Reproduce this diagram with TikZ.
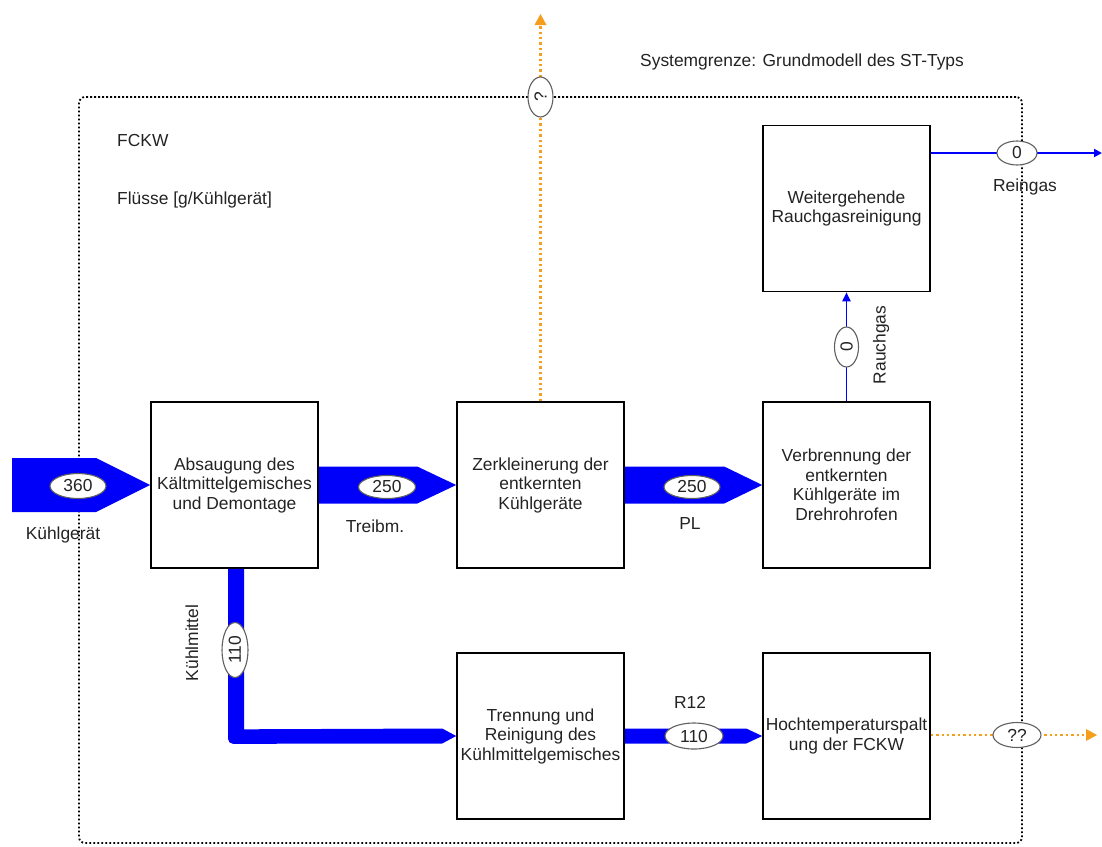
\documentclass[tikz,border=0pt]{standalone}
\usepackage{fontspec}
\setmainfont{Liberation Sans}
\usetikzlibrary{calc,arrows.meta,shapes.geometric}
\definecolor{flowblue}{RGB}{0,0,250}
\definecolor{orng}{RGB}{245,158,30}
\definecolor{txt}{RGB}{35,35,35}
\begin{document}
\begin{tikzpicture}[x=1pt,y=-1pt,
  box/.style={draw=black,line width=1.6pt,minimum width=167pt,minimum height=166pt,inner sep=0pt,align=center,text=txt,font=\fontsize{17.4}{19.5}\selectfont},
  lbl/.style={font=\fontsize{17.4}{19.5}\selectfont,inner sep=0pt,text=txt},
  val/.style={ellipse,draw=gray!75!black,fill=white,line width=1.1pt,inner sep=0pt,text=txt,font=\fontsize{17.4}{19.5}\selectfont},
  flow/.style={fill=flowblue},
  thinflow/.style={draw=flowblue,line width=1.9pt},
  dotline/.style={line width=2.6pt,dash pattern=on 2.4pt off 3pt},
  sysline/.style={draw=black,line width=1.8pt,dash pattern=on 1.8pt off 2.2pt,rounded corners=6pt},
]
\useasboundingbox (0,0) rectangle (1102,846);

% system boundary
\node[sysline,minimum width=943pt,minimum height=746pt,inner sep=0pt] (sys) at (550.5,470) {};

% process boxes
\node[box] (abs) at (234.5,485) {Absaugung des\\Kältmittelgemisches\\und Demontage};
\node[box] (zerk) at (540.5,485) {Zerkleinerung der\\entkernten\\Kühlgeräte};
\node[box] (verb) at (846.5,485) {Verbrennung der\\entkernten\\Kühlgeräte im\\Drehrohrofen};
\node[box] (weit) at (846.5,208.5) {Weitergehende\\Rauchgasreinigung};
\node[box] (tren) at (540.5,736) {Trennung und\\Reinigung des\\Kühlmittelgemisches};
\node[box] (hoch) at (846.5,736) {Hochtemperaturspalt\\ung der FCKW};

% input flow 360
\coordinate (in) at (12,485);
\fill[flow] ($(in)+(0,-27)$) -- ($(abs.west)+(-54,-27)$) -- (abs.west) -- ($(abs.west)+(-54,27)$) -- ($(in)+(0,27)$) -- cycle;
\node[val,minimum width=56pt,minimum height=25pt] (v360) at (78,486) {360};
\node[lbl] (lkg) at (63,535) {Kühlgerät};

% Treibm 250
\fill[flow] ($(abs.east)+(0,-18.5)$) -- ($(zerk.west)+(-39,-18.5)$) -- (zerk.west) -- ($(zerk.west)+(-39,18.5)$) -- ($(abs.east)+(0,18.5)$) -- cycle;
\node[val,minimum width=57pt,minimum height=23pt] (v250a) at (387,487) {250};
\node[lbl] (ltr) at (375,526) {Treibm.};

% PL 250
\fill[flow] ($(zerk.east)+(0,-18.5)$) -- ($(verb.west)+(-38,-18.5)$) -- (verb.west) -- ($(verb.west)+(-38,18.5)$) -- ($(zerk.east)+(0,18.5)$) -- cycle;
\node[val,minimum width=56pt,minimum height=23pt] (v250b) at (692,487) {250};
\node[lbl] (lpl) at (690,524) {PL};

% Kuehlmittel 110
\fill[flow] ($(abs.south)+(-6.5,0)$) -- ++(0,170) to[out=-90,in=180] ++(5,5) -- ($(tren.west)+(-14,7.5)$) -- (tren.west) -- ($(tren.west)+(-14,-7.5)$) -- ($(abs.south)+(9.5,160.5)$) -- ($(abs.south)+(9.5,0)$) -- cycle;
\node[val,minimum width=26pt,minimum height=55pt] (v110a) at (235,650) {\rotatebox{90}{110}};
\node[lbl,rotate=90] (lkm) at (192,643) {Kühlmittel};

% R12 110
\fill[flow] ($(tren.east)+(0,-7.5)$) -- ($(hoch.west)+(-16,-7.5)$) -- (hoch.west) -- ($(hoch.west)+(-16,7.5)$) -- ($(tren.east)+(0,7.5)$) -- cycle;
\node[val,minimum width=58pt,minimum height=26pt] (v110b) at (694,736) {110};
\node[lbl] (lr12) at (690,702) {R12};

% Rauchgas 0
\draw[thinflow,-{Triangle[length=9pt,width=8pt]}] (verb.north) -- (weit.south);
\node[val,minimum width=24pt,minimum height=40pt] (v0a) at (846.5,347) {\rotatebox{90}{0}};
\node[lbl,rotate=90] (lrg) at (881,345) {Rauchgas};

% Reingas 0
\coordinate (out1) at (1102,153);
\draw[thinflow,-{Triangle[length=8pt,width=8pt]}] (weit.north east |- out1) -- (out1);
\node[val,minimum width=40pt,minimum height=24pt] (v0b) at (1017,153) {0};
\node[lbl] (lrn) at (1025,187) {Reingas};

% unknown outputs (orange dotted)
\coordinate (out2) at (540.5,14);
\draw[orng,dotline] (zerk.north) -- ($(out2)+(0,10)$);
\fill[orng] (out2) -- ++(-6,11) -- ++(12,0) -- cycle;
\node[val,minimum width=25pt,minimum height=40pt] (vq1) at (540.5,97) {\rotatebox{90}{?}};

\coordinate (out3) at (1097,735);
\draw[orng,dotline] (hoch.east |- out3) -- ($(out3)+(-10,0)$);
\fill[orng] (out3) -- ++(-11,-6) -- ++(0,12) -- cycle;
\node[val,minimum width=48pt,minimum height=25pt] (vq2) at (1017,735) {??};

% texts
\node[lbl,anchor=west] (tf) at (117,141) {FCKW};
\node[lbl,anchor=west] (tfl) at (117,200) {Flüsse [g/Kühlgerät]};
\node[lbl,anchor=west] (tsys) at (640,62) {Systemgrenze: Grundmodell des ST-Typs};
\end{tikzpicture}
\end{document}
